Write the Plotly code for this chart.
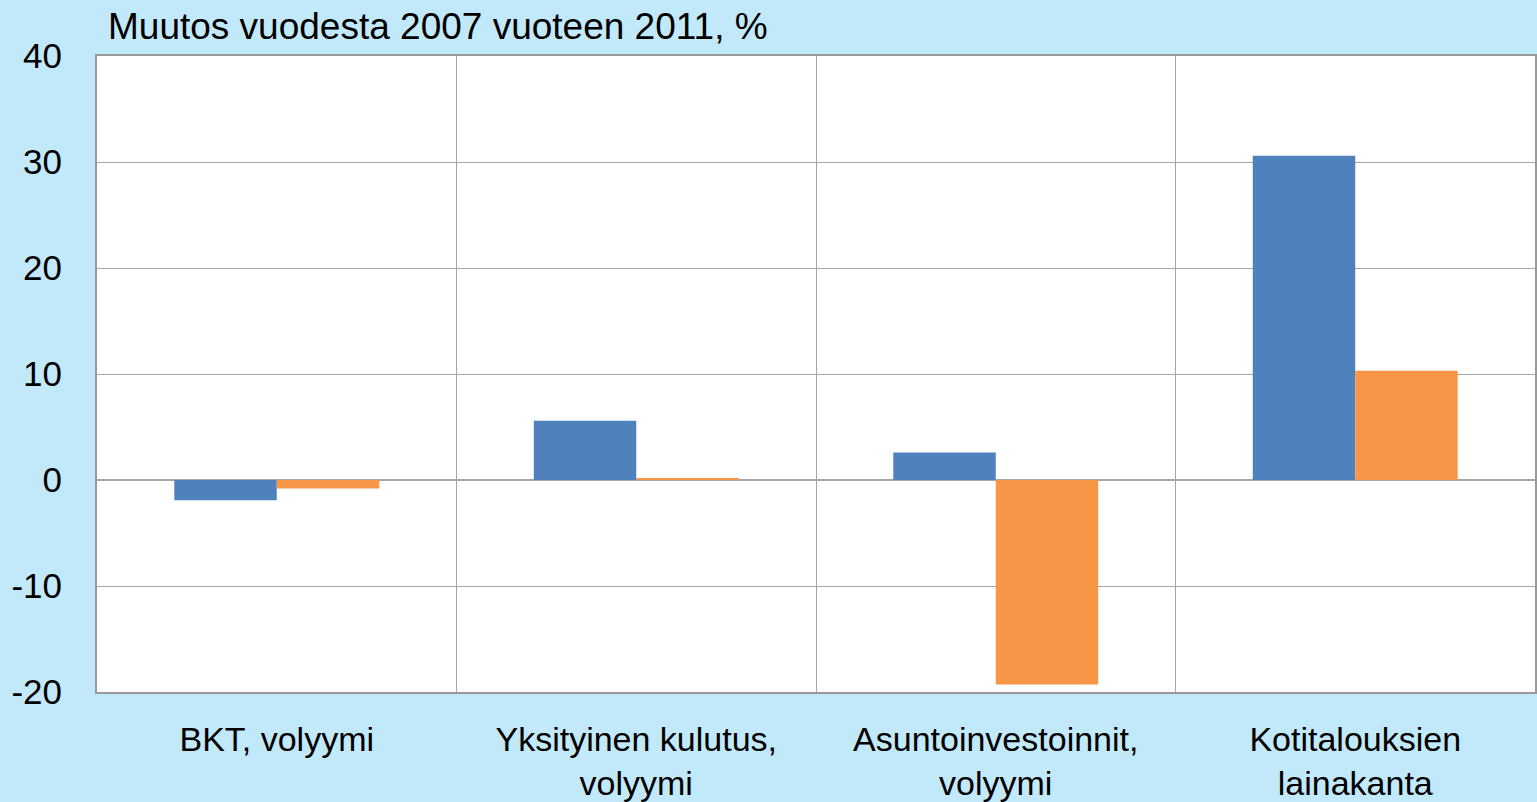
import plotly.graph_objects as go

categories = ["BKT, volyymi", "Yksityinen kulutus,<br>volyymi", "Asuntoinvestoinnit,<br>volyymi", "Kotitalouksien<br>lainakanta"]
series_a = [-1.9, 5.6, 2.6, 30.6]
series_b = [-0.8, 0.2, -19.3, 10.3]
y_ticks = [-20, -10, 0, 10, 20, 30, 40]
y_tick_labels = [str(v) for v in y_ticks]
title_text = "Muutos vuodesta 2007 vuoteen 2011, %"

FONT = "Liberation Sans, Arial, sans-serif"

fig = go.Figure()
fig.add_trace(go.Bar(x=categories, y=series_a, name="Sarja 1", marker=dict(color="#4f81bd", line=dict(width=0))))
fig.add_trace(go.Bar(x=categories, y=series_b, name="Sarja 2", marker=dict(color="#f79646", line=dict(width=0))))

fig.update_layout(
    width=1537, height=802,
    margin=dict(l=97, r=2, t=56, b=110),
    paper_bgcolor="#c2e9fa",
    plot_bgcolor="#ffffff",
    barmode="group", bargap=0.43, bargroupgap=0,
    showlegend=False,
    font=dict(family=FONT, size=35, color="#000000"),
    annotations=[dict(text=title_text, xref="paper", yref="paper", x=0.006, y=1.0, yshift=30,
                      xanchor="left", yanchor="middle", showarrow=False,
                      font=dict(family=FONT, size=37, color="#000000"))],
)
fig.update_xaxes(type="category", tickson="boundaries", showgrid=True, gridcolor="#a6a6a6", gridwidth=1,
                 ticks="", ticklabelstandoff=16,
                 showline=True, linecolor="#999999", linewidth=2, mirror=True,
                 tickfont=dict(size=34), automargin=False)
fig.update_yaxes(range=[-20, 40], tickvals=y_ticks, ticktext=y_tick_labels,
                 showgrid=True, gridcolor="#a6a6a6", gridwidth=1,
                 zeroline=True, zerolinecolor="#a6a6a6", zerolinewidth=2,
                 showline=True, linecolor="#999999", linewidth=2, mirror=True,
                 ticks="outside", ticklen=26, tickcolor="rgba(0,0,0,0)",
                 tickfont=dict(size=35), automargin=False)

fig.write_html("out.html", config={"displayModeBar": False},
               post_script="document.body.style.margin='0';document.body.style.padding='0';")
